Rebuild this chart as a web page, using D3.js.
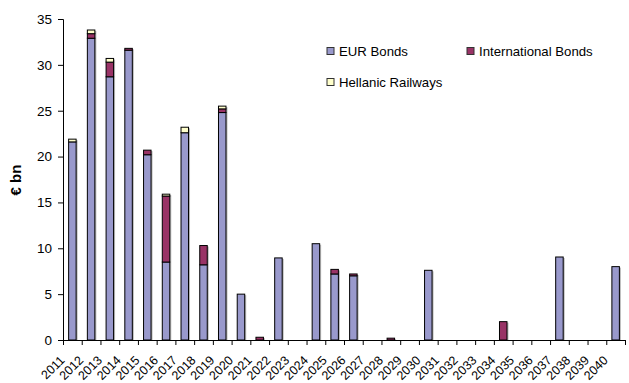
<!DOCTYPE html>
<html>
<head>
<meta charset="utf-8">
<script src="https://cdn.jsdelivr.net/npm/d3@7/dist/d3.min.js"></script>
<style>
  html, body { margin: 0; padding: 0; background: #fff; }
  svg { display: block; font-family: "Liberation Sans", Arial, sans-serif; }
</style>
</head>
<body>
<svg id="chart" width="629" height="383"></svg>
<script>
// Maturity years
const years = d3.range(2011, 2041).map(String);

// Redemptions per year, € bn
const eurBonds = [21.6, 32.9, 28.7, 31.6, 20.2, 8.5, 22.6, 8.2, 24.8, 5.0,
                  0, 8.95, 0, 10.5, 7.2, 7.0, 0, 0, 0, 7.6,
                  0, 0, 0, 0, 0, 0, 9.05, 0, 0, 8.0];
const intlBonds = [0, 0.5, 1.6, 0.2, 0.5, 7.2, 0, 2.1, 0.4, 0,
                   0.3, 0, 0, 0, 0.5, 0.2, 0, 0.2, 0, 0,
                   0, 0, 0, 2.0, 0, 0, 0, 0, 0, 0];
const hellanicRailways = [0.3, 0.4, 0.4, 0, 0, 0.2, 0.6, 0, 0.3, 0,
                          0, 0, 0, 0, 0, 0, 0, 0, 0, 0,
                          0, 0, 0, 0, 0, 0, 0, 0, 0, 0];

const seriesNames = ["EUR Bonds", "International Bonds", "Hellanic Railways"];
const seriesColors = ["#9999CC", "#993366", "#FFFFCC"];
const yTicks = [0, 5, 10, 15, 20, 25, 30, 35];

const keys = ["eur", "intl", "hell"];
const rows = years.map((yr, i) => ({
  year: yr, eur: eurBonds[i], intl: intlBonds[i], hell: hellanicRailways[i]
}));

const svg = d3.select("#chart");
const plotLeft = 63, plotRight = 625, plotTop = 19, plotBottom = 340;

const x = d3.scaleBand().domain(years).range([plotLeft, plotRight])
  .paddingInner(0.6).paddingOuter(0.3);
const xEdge = d3.scaleLinear().domain([0, years.length]).range([plotLeft, plotRight]);
const y = d3.scaleLinear().domain([0, 35]).range([plotBottom, plotTop]);
const color = d3.scaleOrdinal().domain(keys).range(seriesColors);

const stacked = d3.stack().keys(keys)(rows);

// soft grey shadow to the right of each column
const total = r => r.eur + r.intl + r.hell;
svg.append("g").selectAll("rect")
  .data(rows.filter(r => total(r) > 0))
  .join("rect")
  .attr("x", d => x(d.year) + 1.5)
  .attr("y", d => y(total(d)) + 1)
  .attr("width", x.bandwidth())
  .attr("height", d => plotBottom - y(total(d)) - 1)
  .attr("fill", "#b8b8b8");

// stacked columns
svg.append("g").selectAll("g")
  .data(stacked)
  .join("g")
  .attr("fill", d => color(d.key))
  .selectAll("rect")
  .data(d => d.filter(s => s[1] - s[0] > 0))
  .join("rect")
  .attr("x", d => x(d.data.year))
  .attr("y", d => y(d[1]))
  .attr("width", x.bandwidth())
  .attr("height", d => y(d[0]) - y(d[1]))
  .attr("stroke", "#000")
  .attr("stroke-width", 1);

// y axis
const yAxis = svg.append("g")
  .attr("transform", `translate(${plotLeft},0)`)
  .call(d3.axisLeft(y).tickValues(yTicks).tickSize(5).tickPadding(6).tickFormat(d3.format("d")));
yAxis.selectAll("text").attr("font-size", 13.5).attr("fill", "#000")
  .attr("font-family", "Liberation Sans, Arial, sans-serif");
yAxis.selectAll("line,path").attr("stroke", "#000");

// x axis: tick marks between categories
const xAxis = svg.append("g")
  .attr("transform", `translate(0,${plotBottom})`)
  .call(d3.axisBottom(xEdge).tickValues(d3.range(years.length + 1)).tickSize(5).tickFormat(""));
xAxis.selectAll("line,path").attr("stroke", "#000");
xAxis.select(".domain").attr("d", `M${plotLeft},0.5H${plotRight}`);

// rotated year labels
svg.append("g").selectAll("text")
  .data(years)
  .join("text")
  .attr("transform", d => `translate(${x(d) + x.bandwidth() / 2 - 7},361) rotate(-45)`)
  .attr("text-anchor", "end")
  .attr("font-size", 12.5)
  .attr("fill", "#000")
  .text(d => d);

// y axis title
svg.append("text")
  .attr("transform", "translate(21,180) rotate(-90)")
  .attr("text-anchor", "middle")
  .attr("font-size", 15)
  .attr("font-weight", "bold")
  .attr("fill", "#000")
  .text("€ bn");

// legend
const legendPos = [[327, 51], [467, 51], [327, 82]];
const legend = svg.append("g").selectAll("g")
  .data(seriesNames)
  .join("g")
  .attr("transform", (d, i) => `translate(${legendPos[i][0]},${legendPos[i][1]})`);
legend.append("rect")
  .attr("x", 0).attr("y", -3.5).attr("width", 7).attr("height", 7)
  .attr("fill", (d, i) => seriesColors[i])
  .attr("stroke", "#333").attr("stroke-width", 1);
legend.append("text")
  .attr("x", 12).attr("y", 0).attr("dy", "0.36em")
  .attr("font-size", 13.2)
  .attr("fill", "#000")
  .text(d => d);
</script>
</body>
</html>
